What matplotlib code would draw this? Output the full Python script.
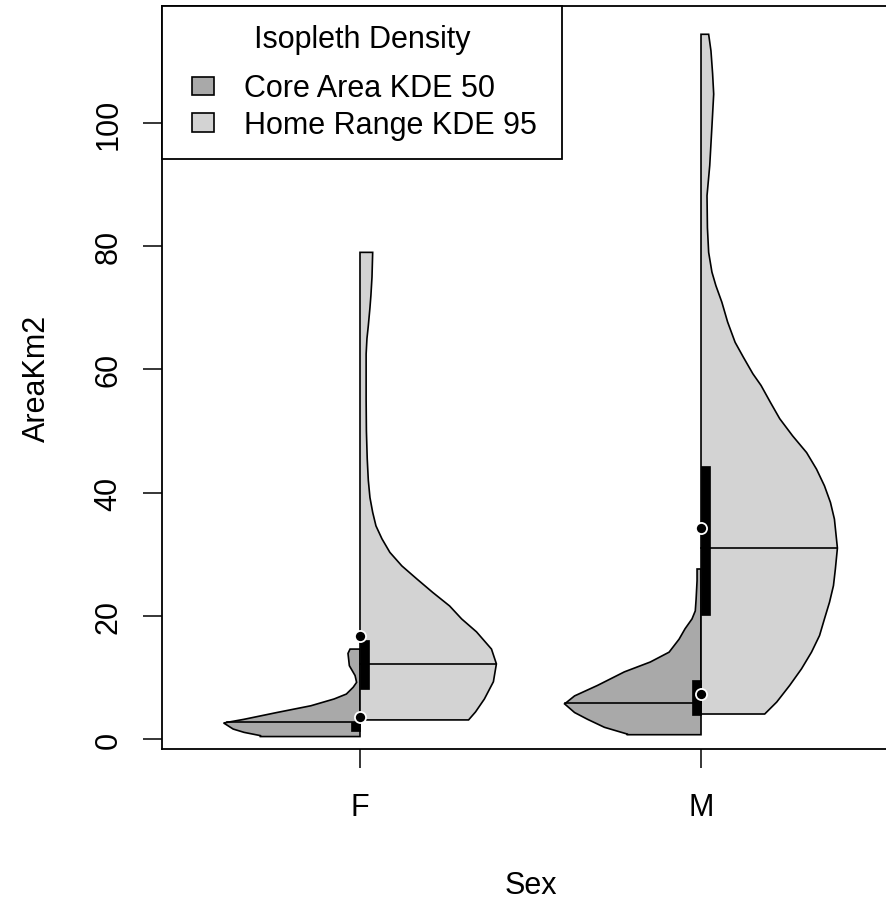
import numpy as np
import matplotlib.pyplot as plt
from matplotlib.patches import Patch, Rectangle
from matplotlib.legend_handler import HandlerPatch

plt.rcParams['font.family'] = ['Liberation Sans', 'DejaVu Sans']
plt.rcParams['font.size'] = 22

groups = ['F', 'M']
core_col = '#A9A9A9'   # KDE 50 (left half)
home_col = '#D3D3D3'   # KDE 95 (right half)

# density outlines, width relative to the widest point of each half
f_core_y = [0.4, 0.55, 1.08, 1.62, 2.4, 2.6, 3.2, 4.3, 5.4, 6.5, 7.3, 8.4, 9.2, 10.3, 11.9, 13.9, 14.6]
f_core_d = [0.73, 0.73, 0.85, 0.93, 0.985, 1.0, 0.85, 0.61, 0.36, 0.19, 0.10, 0.05, 0.025, 0.036, 0.078, 0.088, 0.073]

f_home_y = [3.1, 4.4, 6.5, 9.3, 12.2, 14.6, 17.4, 19.5, 21.6, 23.8, 26.0, 28.1, 30.3, 32.5,
            34.6, 36.8, 39.2, 42.0, 45.5, 50.0, 55.0, 62.5, 65.0, 67.1, 70.0, 72.0, 75.0, 79.0]
f_home_d = [0.796, 0.847, 0.912, 0.978, 1.0, 0.964, 0.854, 0.745, 0.657, 0.533, 0.416, 0.307, 0.219, 0.161,
            0.117, 0.093, 0.073, 0.061, 0.053, 0.047, 0.045, 0.045, 0.051, 0.061, 0.073, 0.080, 0.088, 0.093]

m_core_y = [0.7, 0.8, 1.9, 3.2, 4.3, 5.7, 7.0, 8.7, 10.9, 12.5, 14.1, 16.2, 17.9, 19.5, 20.8, 22.7, 25.7, 27.6]
m_core_d = [0.54, 0.54, 0.708, 0.832, 0.927, 1.0, 0.927, 0.759, 0.562, 0.372, 0.234, 0.161, 0.117, 0.066,
            0.042, 0.036, 0.029, 0.029]

m_home_y = [4.06, 6.0, 8.7, 11.4, 14.1, 16.8, 19.5, 22.2, 24.9, 27.6, 31.0, 35.7, 38.4, 41.1, 43.8, 46.5,
            49.2, 52.0, 54.6, 57.4, 59.3, 62.0, 64.4, 67.7, 70.9, 73.6, 75.8, 79.0, 83.0, 88.2, 93.1, 99.4,
            104.7, 108.0, 111.7, 114.4]
m_home_d = [0.467, 0.555, 0.65, 0.737, 0.81, 0.869, 0.905, 0.942, 0.971, 0.985, 1.0, 0.978, 0.949, 0.905,
            0.847, 0.774, 0.672, 0.577, 0.51, 0.44, 0.38, 0.31, 0.25, 0.195, 0.153, 0.109, 0.08, 0.056,
            0.047, 0.044, 0.064, 0.08, 0.093, 0.085, 0.073, 0.056]

# summary statistics: [F, M]
core_med = [2.7, 5.8]
core_q1 = [1.35, 3.9]
core_q3 = [2.7, 9.6]
core_mean = [3.5, 7.25]
home_med = [12.2, 31.0]
home_q1 = [8.1, 20.1]
home_q3 = [16.0, 44.4]
home_mean = [16.8, 34.2]

core_y = [f_core_y, m_core_y]
core_d = [f_core_d, m_core_d]
home_y = [f_home_y, m_home_y]
home_d = [f_home_d, m_home_d]

wex = 0.4
boxw = 0.027
lw = 1.2


def half_violin(ax, pos, y, d, side, color, med, q1, q3):
    y = np.asarray(y)
    d = np.asarray(d) * wex
    xs = np.concatenate([[pos], pos + side * d, [pos]])
    ys = np.concatenate([[y[0]], y, [y[-1]]])
    ax.fill(xs, ys, facecolor=color, edgecolor='black', lw=lw, zorder=2)
    w = np.interp(med, y, d)
    ax.plot([pos, pos + side * w], [med, med], color='black', lw=lw, zorder=3)
    x0 = pos if side > 0 else pos - boxw
    ax.add_patch(Rectangle((x0, q1), boxw, q3 - q1, facecolor='black', edgecolor='black', lw=0.5, zorder=4))


fig = plt.figure(figsize=(8.86, 9.03), dpi=100)
ax = fig.add_axes([162 / 886, 153 / 903, 736.8 / 886, 743.3 / 903])

for i in range(len(groups)):
    pos = i + 1
    half_violin(ax, pos, core_y[i], core_d[i], -1, core_col, core_med[i], core_q1[i], core_q3[i])
    half_violin(ax, pos, home_y[i], home_d[i], 1, home_col, home_med[i], home_q1[i], home_q3[i])

positions = np.arange(1, len(groups) + 1)
for means in (home_mean, core_mean):
    ax.plot(positions, means, 'o', ms=8, mfc='black', mec='white', mew=1.3, ls='none', zorder=5)

ax.set_xlim(0.4194, 2.58)
ax.set_ylim(-1.62, 119.04)
ax.set_xticks(positions)
ax.set_xticklabels(groups)
ax.set_yticks([0, 20, 40, 60, 80, 100])
ax.tick_params(axis='both', length=13.7, width=1.1, color='black')
ax.tick_params(axis='x', pad=17)
ax.tick_params(axis='y', pad=14)
for lab in ax.get_yticklabels():
    lab.set_rotation(90)
    lab.set_va('center')
for sp in ax.spines.values():
    sp.set_linewidth(1.3)
ax.set_xlabel('Sex', labelpad=35)
ax.set_ylabel('AreaKm2', labelpad=30)


def small_square(legend, orig_handle, xdescent, ydescent, width, height, fontsize):
    side_w = 0.72 * fontsize
    side_h = 0.6 * fontsize
    return Rectangle((-xdescent + width - side_w, -ydescent + (height - side_h) / 2), side_w, side_h)


handles = [Patch(facecolor=core_col, edgecolor='black', lw=1.2),
           Patch(facecolor=home_col, edgecolor='black', lw=1.2)]
leg = ax.legend(handles, ['Core Area KDE 50', 'Home Range KDE 95'], title='Isopleth Density',
                loc='upper left', bbox_to_anchor=(0, 1, 400 / 736.8, 0), mode='expand',
                borderaxespad=0, borderpad=0.6, handlelength=1.1, handleheight=0.7,
                handletextpad=1.0, labelspacing=0.22, fancybox=False, framealpha=1,
                edgecolor='black', fontsize=22, title_fontsize=22,
                handler_map={Patch: HandlerPatch(patch_func=small_square)})
leg.get_frame().set_linewidth(1.3)
# extra gap between the title and the entries
leg._legend_box.sep = 14

fig.savefig('out.png', dpi=100, facecolor='white')
